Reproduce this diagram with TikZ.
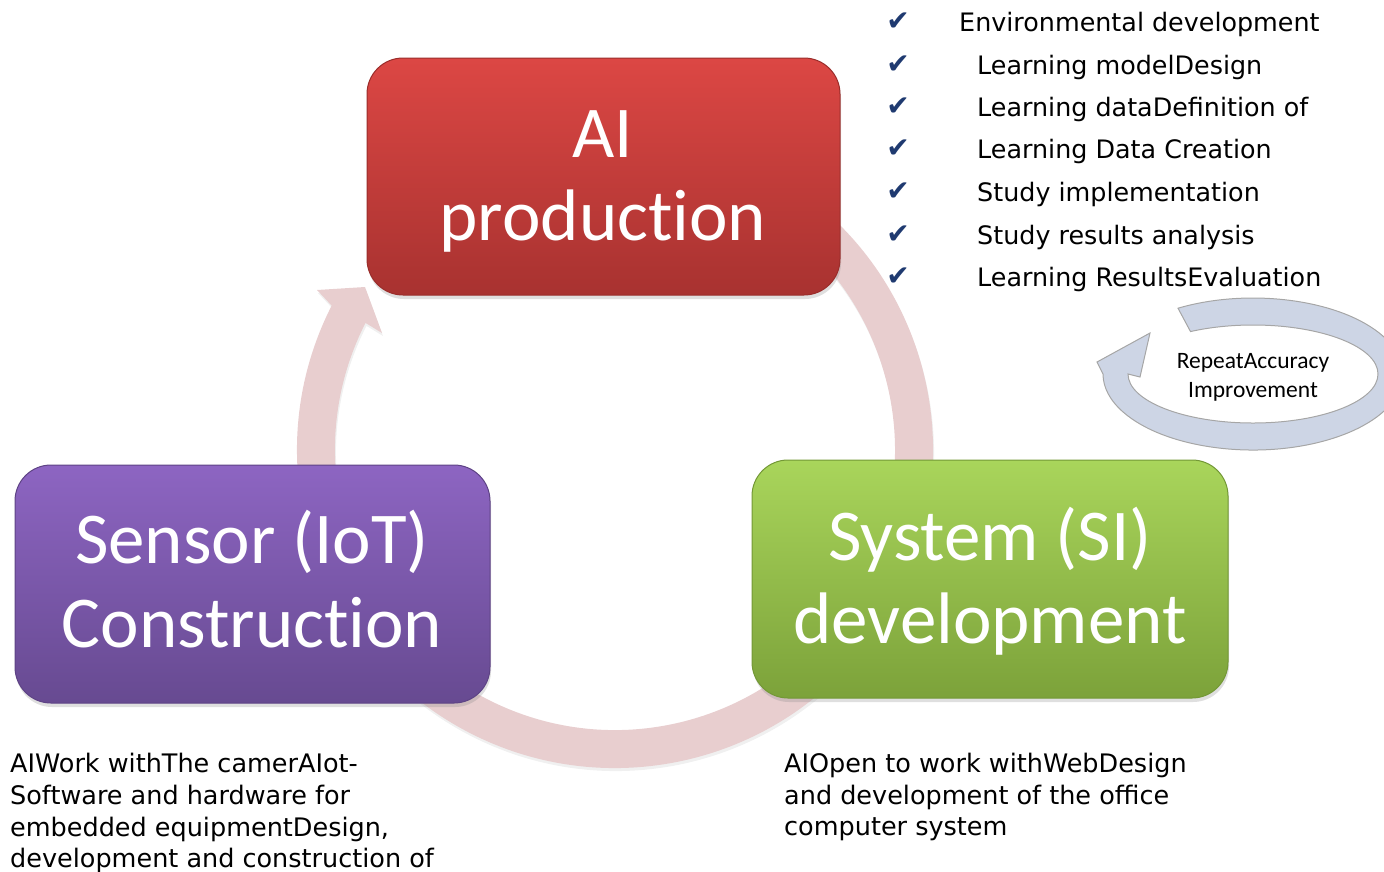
\documentclass[tikz,border=0pt]{standalone}
\usepackage{fontspec}
\newfontfamily\calfont[Ligatures=NoCommon]{Carlito}
\newfontfamily\dvfont{DejaVu Sans}
\usetikzlibrary{shadows}
\newcommand{\nolig}{\kern0pt }
\definecolor{redtop}{HTML}{DC4744}
\definecolor{redbot}{HTML}{A83230}
\definecolor{redline}{HTML}{9A2D2B}
\definecolor{purtop}{HTML}{8D65C2}
\definecolor{purbot}{HTML}{674A91}
\definecolor{purline}{HTML}{5E4385}
\definecolor{grntop}{HTML}{A9D55B}
\definecolor{grnbot}{HTML}{7CA23A}
\definecolor{grnline}{HTML}{739836}
\definecolor{ringpink}{HTML}{E8CECF}
\definecolor{ringblue}{HTML}{CDD5E5}
\definecolor{ringgray}{HTML}{A6A6A6}
\definecolor{navy}{HTML}{1F3A70}
\begin{document}
\begin{tikzpicture}[x=1pt,y=-1pt,
  boxbase/.style={draw, line width=1pt, rounded corners=36pt, inner sep=0pt,
    drop shadow={shadow xshift=1pt, shadow yshift=-4pt, opacity=0.25}},
  redbox/.style={boxbase, top color=redtop, bottom color=redbot, draw=redline},
  purbox/.style={boxbase, top color=purtop, bottom color=purbot, draw=purline},
  grnbox/.style={boxbase, top color=grntop, bottom color=grnbot, draw=grnline},
  boxtxt/.style={anchor=base, text=white, inner sep=0pt, font=\calfont\fontsize{73}{82}\selectfont},
  chk/.style={anchor=base, text=navy, inner sep=0pt, font=\dvfont\fontsize{28}{28}\selectfont},
  listtxt/.style={anchor=base west, inner sep=0pt, font=\dvfont\fontsize{25.4}{30}\selectfont},
  bodytxt/.style={anchor=base west, inner sep=0pt, font=\dvfont\fontsize{25.5}{30}\selectfont},
  looptxt/.style={anchor=base, inner sep=0pt, font=\calfont\fontsize{23.5}{28}\selectfont}]
\useasboundingbox (0,0) rectangle (1384,871);

% big cycle arrow
\fill[ringpink, drop shadow={shadow xshift=1pt, shadow yshift=-3pt, opacity=0.12}]
  (774,174.6) arc[start angle=-60, end angle=207, radius=318]
  -- (317,290) -- (365,287) -- (382,333) -- (365.5,322.9)
  arc[start angle=207, end angle=-60, radius=280] -- cycle;

% boxes
\node[redbox, minimum width=473pt, minimum height=237pt] (ai) at (603.5,176.5) {};
\node[purbox, minimum width=475pt, minimum height=238pt] (iot) at (252.5,584) {};
\node[grnbox, minimum width=476pt, minimum height=238pt] (si) at (990,579) {};

\node[boxtxt] (ai1) at (603,157) {AI};
\node[boxtxt] (ai2) at (603,240) {product\nolig ion};
\node[boxtxt] (iot1) at (252,563) {Sensor (IoT)};
\node[boxtxt] (iot2) at (252,647) {Construct\nolig ion};
\node[boxtxt] (si1) at (990,560) {System (SI)};
\node[boxtxt] (si2) at (990,643) {development};

% small repeat arrow
\filldraw[fill=ringblue, draw=ringgray, line width=1pt]
  (1178,308.2) arc[start angle=-120, end angle=180, x radius=150, y radius=76]
  -- (1097,362) -- (1150,333) -- (1140,377) -- (1128,374)
  arc[start angle=180, end angle=-120, x radius=125, y radius=49] -- cycle;
\node[looptxt] (rep1) at (1253,368) {RepeatAccuracy};
\node[looptxt] (rep2) at (1253,397) {Improvement};

% check list
\node[chk] (c1) at (898,30) {✔};
\node[chk] (c2) at (898,73) {✔};
\node[chk] (c3) at (898,115) {✔};
\node[chk] (c4) at (898,157) {✔};
\node[chk] (c5) at (898,200) {✔};
\node[chk] (c6) at (898,243) {✔};
\node[chk] (c7) at (898,285) {✔};
\node[listtxt] (l1) at (959,31) {Environmental development};
\node[listtxt] (l2) at (977,74) {Learning modelDesign};
\node[listtxt] (l3) at (977,116) {Learning dataDefinition of};
\node[listtxt] (l4) at (977,158) {Learning Data Creation};
\node[listtxt] (l5) at (977,201) {Study implementation};
\node[listtxt] (l6) at (977,244) {Study results analysis};
\node[listtxt] (l7) at (977,286) {Learning ResultsEvaluation};

% descriptions
\node[bodytxt] (d1) at (10,772) {AIWork withThe camerAIot-};
\node[bodytxt] (d2) at (10,804) {Software and hardware for};
\node[bodytxt] (d3) at (10,836) {embedded equipmentDesign,};
\node[bodytxt] (d4) at (10,867) {development and construction of};
\node[bodytxt] (e1) at (784,772) {AIOpen to work withWebDesign};
\node[bodytxt] (e2) at (784,804) {and development of the office};
\node[bodytxt] (e3) at (784,835) {computer system};
\end{tikzpicture}
\end{document}
